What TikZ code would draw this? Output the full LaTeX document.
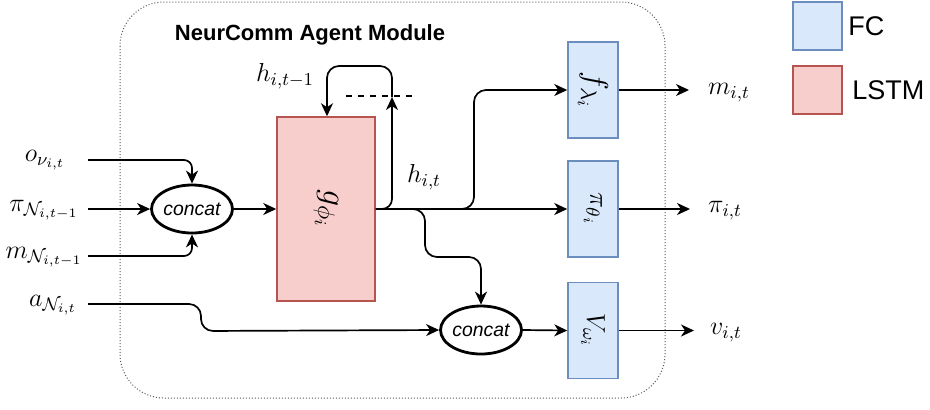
\RequirePackage{fix-cm}
\documentclass[tikz,border=0pt]{standalone}
\usepackage{fontspec}
\newfontfamily\labelsans{Liberation Sans}
\usetikzlibrary{arrows.meta,shapes.geometric,calc}

\definecolor{fcfill}{HTML}{DAE8FC}
\definecolor{fcdraw}{HTML}{6C8EBF}
\definecolor{lsfill}{HTML}{F8CECC}
\definecolor{lsdraw}{HTML}{B85450}

\begin{document}
\begin{tikzpicture}[x=0.5pt,y=-0.5pt,
  arr/.style={draw, line width=0.85pt, -{Stealth[length=6.5pt,width=6pt,inset=2pt]}},
  fcbox/.style={draw=fcdraw, fill=fcfill, line width=0.75pt, minimum width=25pt, minimum height=48pt, inner sep=0pt},
  lsbox/.style={draw=lsdraw, fill=lsfill, line width=0.75pt, minimum width=49pt, minimum height=92pt, inner sep=0pt},
  catnode/.style={ellipse, draw, line width=1.4pt, fill=white, minimum width=40.5pt, minimum height=24pt, inner sep=0pt, font=\labelsans\itshape\fontsize{9.7}{11}\selectfont},
  mlab/.style={inner sep=0pt, font=\fontsize{13}{15}\selectfont},
  legbox/.style={draw, line width=0.75pt, minimum width=24.5pt, minimum height=24pt, inner sep=0pt},
  legtext/.style={anchor=west, inner sep=0pt, font=\labelsans\fontsize{13.5}{15}\selectfont}
]
\useasboundingbox (0,0) rectangle (930,409);

% module frame and title
\draw[densely dotted, line width=0.5pt, black!65, rounded corners=22pt] (120,2) rectangle (665,398);
\node[inner sep=0pt, font=\labelsans\bfseries\fontsize{11}{13}\selectfont] (title) at (310,35) {NeurComm Agent Module};

% blocks
\node[lsbox] (lstm) at (326,209) {};
\node[rotate=-90, inner sep=0pt, font=\fontsize{17}{19}\selectfont] (glab) at (lstm) {$g_{\phi_i}$};
\node[fcbox] (fbox) at (593,90) {};
\node[rotate=-90, inner sep=0pt, font=\fontsize{16}{18}\selectfont] (flab) at (fbox) {$f_{\lambda_i}$};
\node[fcbox] (pibox) at (593,209) {};
\node[rotate=-90, inner sep=0pt, font=\fontsize{13.5}{15}\selectfont] (pilab) at (pibox) {$\pi_{\theta_i}$};
\node[fcbox] (vbox) at (593,330.5) {};
\node[rotate=-90, inner sep=0pt, font=\fontsize{13}{15}\selectfont] (vlab) at (vbox) {$V_{\omega_i}$};

\node[catnode] (cat1) at (192,209) {concat};
\node[catnode] (cat2) at (481,330) {concat};

% input labels and wire starts
\node[mlab] (lo) at (45,160) {$o_{\nu_{i,t}}$};
\node[mlab] (lpi) at (44,210) {$\pi_{\mathcal{N}_{i,t-1}}$};
\node[mlab] (lm) at (44,257) {$m_{\mathcal{N}_{i,t-1}}$};
\node[mlab] (la) at (53,305) {$a_{\mathcal{N}_{i,t}}$};
\coordinate (ino) at (88,160);
\coordinate (inpi) at (88,209);
\coordinate (inm) at (88,256);
\coordinate (ina) at (88,304);
\coordinate (ajog) at (201,331);

% inputs into the first concat
\draw[arr, rounded corners=4pt] (ino) -| (cat1.north);
\draw[arr] (inpi) -- (cat1.west);
\draw[arr, rounded corners=4pt] (inm) -| (cat1.south);
\draw[arr, rounded corners=6pt] (ina) -| (ajog) -- (cat2.west);
\draw[arr] (cat1.east) -- (lstm.west);

% recurrent state
\coordinate (htip) at (392,97);
\coordinate (hback) at (327,66);
\coordinate (dashL) at (346,96);
\coordinate (dashR) at (418,96);
\draw[dashed, line width=0.6pt] (dashL) -- (dashR);
\draw[arr, rounded corners=5pt] (lstm.east) -| (htip);
\draw[arr, rounded corners=6pt] (htip) |- (hback) -- (hback |- lstm.north);
\node[mlab] (hprev) at (285,76) {$h_{i,t-1}$};
\node[mlab] (hcur) at (424,177) {$h_{i,t}$};

% heads
\coordinate (fjog) at (474,150);
\coordinate (vjog) at (425,257);
\draw[arr] (lstm.east) -- (pibox.west);
\draw[arr, rounded corners=6pt] (lstm.east) -| (fjog) |- (fbox.west);
\draw[arr, rounded corners=6pt] (lstm.east) -| (vjog) -| (cat2.north);
\draw[arr] (cat2.east) -- (vbox.west);

% outputs
\coordinate (mout) at (689,90);
\coordinate (piout) at (690,209);
\coordinate (vout) at (694,330.5);
\draw[arr] (fbox.east) -- (mout);
\draw[arr] (pibox.east) -- (piout);
\draw[arr] (vbox.east) -- (vout);
\node[mlab] (lmo) at (729,93) {$m_{i,t}$};
\node[mlab] (lpio) at (725,211) {$\pi_{i,t}$};
\node[mlab] (lvo) at (726,333) {$v_{i,t}$};

% legend
\node[legbox, draw=fcdraw, fill=fcfill] (legfc) at (817.5,26) {};
\node[legbox, draw=lsdraw, fill=lsfill] (legls) at (817.5,90) {};
\node[legtext] (legfct) at (848,26) {FC};
\node[legtext] (leglst) at (852,90) {LSTM};
\end{tikzpicture}
\end{document}
